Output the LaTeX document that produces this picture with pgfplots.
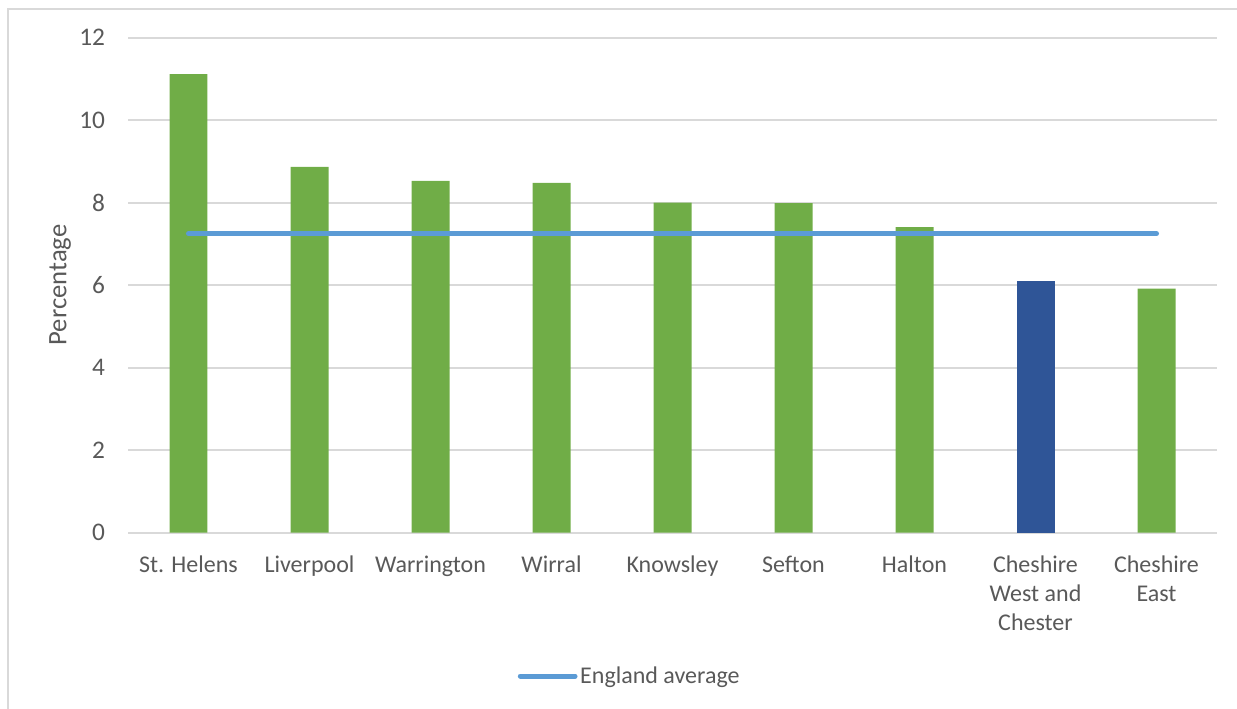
\documentclass[border=0pt]{standalone}
\usepackage{pgfplots}
\pgfplotsset{compat=1.18}
\usepackage{fontspec}
\setmainfont{Carlito}
\definecolor{txt}{HTML}{595959}
\definecolor{grid}{HTML}{D9D9D9}
\definecolor{barGreen}{HTML}{70AD47}
\definecolor{barBlue}{HTML}{2F5597}
\definecolor{avgBlue}{HTML}{5B9BD5}
\begin{document}
\begin{tikzpicture}[x=0.75pt,y=0.75pt]
\useasboundingbox (0,0) rectangle (1237,709);
% chart frame
\draw[grid, line width=1.1pt] (8,0) -- (8,700) -- (1237,700);
\begin{axis}[
  at={(96pt,132.2pt)}, anchor=south west,
  scale only axis,
  width=816.75pt, height=371.25pt,
  xmin=-0.5, xmax=8.5, ymin=0, ymax=12,
  ytick={0,2,...,12},
  xtick={0,...,8},
  xticklabels={St. Helens, Liverpool, Warrington, Wirral, Knowsley, Sefton, Halton, {Cheshire\\West and\\Chester}, {Cheshire\\East}},
  axis line style={draw=none},
  major tick length=0pt, tick style={draw=none},
  xmajorgrids=false, ymajorgrids=true,
  y grid style={grid, line width=1.3pt},
  /pgf/number format/assume math mode=true,
  tick label style={font=\fontsize{18}{22}\selectfont, text=txt},
  yticklabel style={anchor=east, inner sep=0pt, xshift=-17pt, font=\fontsize{19}{22}\selectfont},
  xticklabel style={anchor=north, align=center, inner sep=0pt, yshift=-17pt},
  bar width=0.314,
  legend style={at={(rel axis cs:0.461,-0.2895)}, anchor=center, draw=none, fill=none,
    font=\fontsize{18}{22}\selectfont, text=txt, inner sep=0pt,
    /tikz/every even column/.append style={column sep=0pt}},
  legend cell align=left,
  clip=false,
]
\draw[grid, line width=1.3pt] (axis cs:-0.5,0) -- (axis cs:8.5,0);
% local authorities
\addplot[ybar, fill=barGreen, draw=none, bar shift=0pt, forget plot] coordinates {
  (0,11.12) (1,8.87) (2,8.53) (3,8.48) (4,8.00) (5,7.99) (6,7.41) (8,5.92)
};
\addplot[ybar, fill=barBlue, draw=none, bar shift=0pt, forget plot] coordinates {
  (7,6.10)
};
% national comparison
\addplot[avgBlue, line width=3.8pt, line cap=round,
  legend image code/.code={\draw[avgBlue, line width=3.8pt, line cap=round] (0pt,0pt) -- (41pt,0pt);}]
  coordinates {(0,7.25) (1,7.25) (2,7.25) (3,7.25) (4,7.25) (5,7.25) (6,7.25) (7,7.25) (8,7.25)};
\addlegendentry{England average}
\end{axis}
\node[rotate=90, text=txt, font=\fontsize{20}{24}\selectfont] at (60,424) {Percentage};
\end{tikzpicture}
\end{document}
